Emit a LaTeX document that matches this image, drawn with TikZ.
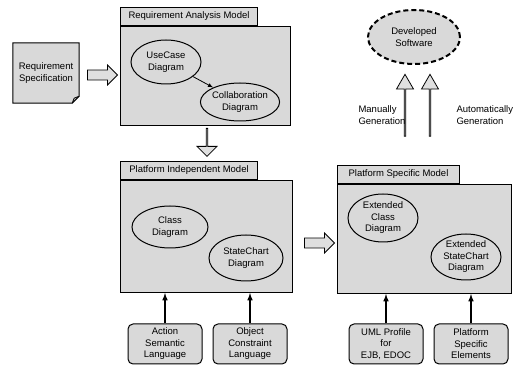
\documentclass[tikz,border=0pt]{standalone}
\usepackage{fontspec}
\setmainfont{Liberation Sans}
\usetikzlibrary{shapes.geometric, shapes.arrows, positioning}

\tikzset{
  pkgbody/.style={draw, line width=1pt, fill=gray!30, anchor=north west, inner sep=0pt},
  pkgtab/.style={draw, line width=1pt, fill=gray!30, anchor=south west, minimum height=18, inner sep=2pt},
  diagram/.style={ellipse, draw, line width=1pt, fill=gray!30, align=center, inner sep=0pt},
  srcbox/.style={draw, line width=1pt, rounded corners=5, fill=gray!30, align=center, inner sep=1pt, minimum width=74, minimum height=40},
  hollow/.style={single arrow, draw, line width=0.8pt, fill=gray!25, inner xsep=0pt, inner ysep=4.5pt, minimum width=20, single arrow head extend=5},
  genarrow/.style={hollow, minimum height=62, minimum width=17, inner ysep=4.5pt, single arrow head extend=4, single arrow tip angle=60, shape border rotate=90},
  feed/.style={-latex, line width=1.5pt}
}

\begin{document}
\begin{tikzpicture}[x=1pt, y=-1pt, font=\fontsize{9.5}{11.5}\selectfont]
    \useasboundingbox (0,0) rectangle (515,366);

    % requirement document
    \node[minimum width=66, minimum height=60, align=center, inner sep=0pt] at (46,73) (reqspec) {};
    \draw[line width=1pt, fill=gray!30] (reqspec.north west) -- (reqspec.north east) -- ([yshift=7pt]reqspec.south east) -- ([xshift=-7pt]reqspec.south east) -- (reqspec.south west) -- cycle;
    \draw[line width=0.8pt] ([yshift=7pt]reqspec.south east) -- ([xshift=-5pt,yshift=5pt]reqspec.south east) -- ([xshift=-7pt]reqspec.south east);
    \node[align=center] at (reqspec) {Requirement\\Specification};

    % packages
    \node[pkgbody, minimum width=170, minimum height=99] at (120,26) (ram) {};
    \node[pkgtab, minimum width=137, align=left] at (ram.north west) (ramtab) {Requirement Analysis Model};
    \node[pkgbody, minimum width=172, minimum height=112] at (120,180) (pim) {};
    \node[pkgtab, minimum width=137] at (pim.north west) (pimtab) {Platform Independent Model};
    \node[pkgbody, minimum width=174, minimum height=109] at (337,184) (psm) {};
    \node[pkgtab, minimum width=122] at (psm.north west) (psmtab) {Platform Specific Model};

    % diagrams
    \node[diagram, minimum width=70, minimum height=44] at (166,62) (usecase) {UseCase\\Diagram};
    \node[diagram, minimum width=78, minimum height=38] at (240,102) (collab) {Collaboration\\Diagram};
    \node[diagram, minimum width=76, minimum height=42] at (170,227) (class) {Class\\Diagram};
    \node[diagram, minimum width=74, minimum height=46] at (246,258) (state) {StateChart\\Diagram};
    \node[diagram, minimum width=70, minimum height=48] at (383,218) (extclass) {Extended\\Class\\Diagram};
    \node[diagram, minimum width=70, minimum height=46] at (466,257) (extstate) {Extended\\StateChart\\Diagram};
    \draw[-latex, line width=0.8pt] (usecase) -- (collab);

    % developed software
    \node[diagram, line width=2pt, dash pattern=on 5pt off 3pt, minimum width=92, minimum height=54] at (414,37) (software) {Developed\\Software};

    % hollow arrows
    \node[hollow, minimum height=30] at (100,75) (toram) {};
    \node[hollow, minimum height=28, shape border rotate=270] at (207,142) (topim) {};
    \node[hollow, minimum height=30] at (317,243) (topsm) {};
    \node[genarrow] at (405,106) (manual) {};
    \node[genarrow] at (430,106) (automatic) {};
    \node[align=left, anchor=west] at (355,115) (manualtext) {Manually\\Generation};
    \node[align=left, anchor=west] at (453,115) (autotext) {Automatically\\Generation};

    % sources
    \node[srcbox] at (165,344) (asl) {Action\\Semantic\\Language};
    \node[srcbox] at (250,344) (ocl) {Object\\Constraint\\Language};
    \node[srcbox] at (386,344) (uml) {UML Profile\\for\\EJB, EDOC};
    \node[srcbox] at (471,344) (pse) {Platform\\Specific\\Elements};

    \draw[feed] (asl) -- (asl |- pim.south);
    \draw[feed] (ocl) -- (ocl |- pim.south);
    \draw[feed] (uml) -- (uml |- psm.south);
    \draw[feed] (pse) -- (pse |- psm.south);
\end{tikzpicture}
\end{document}
